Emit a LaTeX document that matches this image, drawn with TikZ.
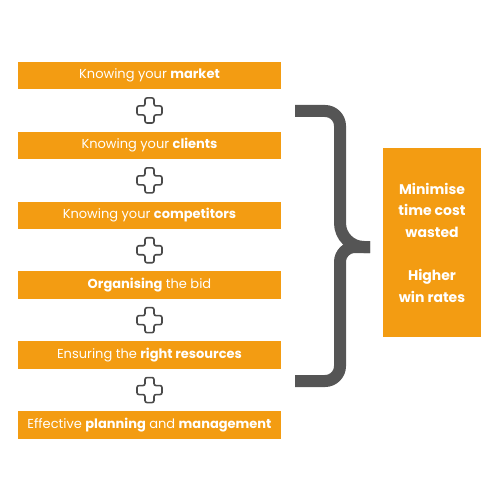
\documentclass[tikz,border=0pt]{standalone}
\usepackage{fontspec}
\setmainfont{Poppins}
\usetikzlibrary{positioning,calc}
\definecolor{BIDOrange}{HTML}{F39C12}
\definecolor{BIDBrace}{HTML}{555555}
\definecolor{BIDPlus}{HTML}{4A4A4A}
\tikzset{
  bidbox/.style={
    fill=BIDOrange,
    text=white,
    inner sep=0pt,
    minimum width=263pt,
    minimum height=27.5pt,
    font=\fontsize{13}{15}\selectfont
  },
  bidresult/.style={
    fill=BIDOrange,
    text=white,
    align=center,
    inner sep=0pt,
    minimum width=98pt,
    minimum height=189pt,
    font=\fontsize{14}{21.5}\selectfont\bfseries
  },
  bidbrace/.style={draw=BIDBrace,line width=12pt,rounded corners=15pt},
  bidplus/.pic={
    \draw[BIDPlus,fill=white,line width=1.6pt,rounded corners=2pt]
      (-4.5,-12.5) -- (4.5,-12.5) -- (4.5,-4.5) -- (12.5,-4.5) -- (12.5,4.5)
      -- (4.5,4.5) -- (4.5,12.5) -- (-4.5,12.5) -- (-4.5,4.5) -- (-12.5,4.5)
      -- (-12.5,-4.5) -- (-4.5,-4.5) -- cycle;
  }
}

\begin{document}
\begin{tikzpicture}[x=1pt,y=-1pt,node distance=42pt]
  \useasboundingbox (0,0) rectangle (500,500);
  \node[bidbox] (market) at (149.5,75.5) {Knowing your \textbf{market}};
  \node[bidbox,below=of market] (clients) {Knowing your \textbf{clients}};
  \node[bidbox,below=of clients] (competitors) {Knowing your \textbf{competitors}};
  \node[bidbox,below=of competitors] (bid) {\textbf{Organising} the bid};
  \node[bidbox,below=of bid] (resources) {Ensuring the \textbf{right resources}};
  \node[bidbox,below=of resources] (planning) {Effective \textbf{planning} and \textbf{management}};
  % plus signs between the steps
  \foreach \a/\b in {market/clients,clients/competitors,competitors/bid,bid/resources,resources/planning}
    \path ($(\a.south)!0.5!(\b.north)$) pic {bidplus};
  % brace
  \draw[bidbrace] (295,111) -- (340,111) [rounded corners=24pt] -- (340,247) -- (370,247);
  \draw[bidbrace] (370,247) -- (340,247) [rounded corners=15pt] -- (340,381) -- (295,381);
  \node[bidresult] (outcome) at (432,242.5) {Minimise\\time cost\\wasted\\[22pt]Higher\\win rates};
\end{tikzpicture}
\end{document}
